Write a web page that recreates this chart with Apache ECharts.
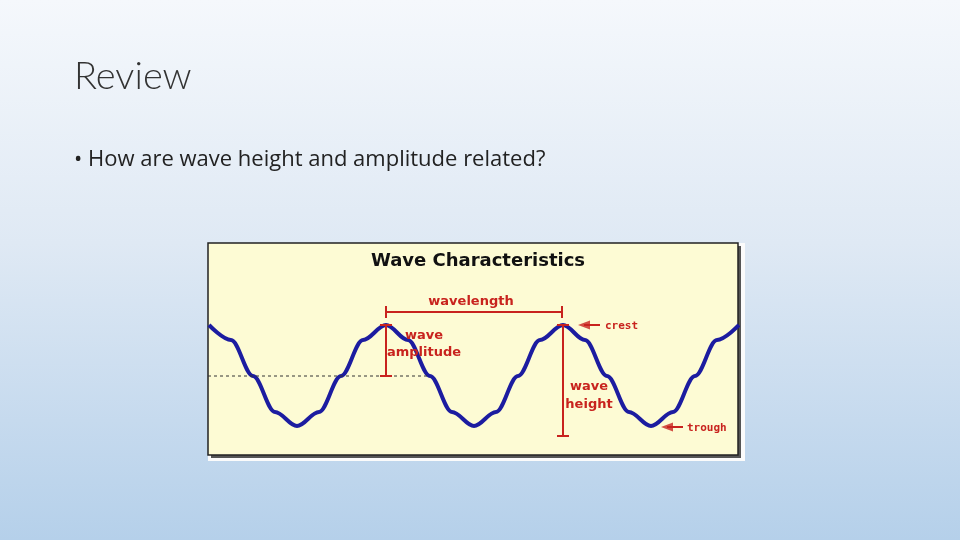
<!DOCTYPE html>
<html><head><meta charset="utf-8">
<script src="https://cdn.jsdelivr.net/npm/echarts@6/dist/echarts.min.js"></script>
<style>
html,body{margin:0;padding:0;}
#c{width:960px;height:540px;background:linear-gradient(#f5f8fc 0%,#dfe9f4 45%,#b5d0ea 100%);}
</style></head>
<body><div id="c"></div>
<script>
// wave (x, y in diagram units)
const waveX = [209,231,253,275,297,319,341,363,386,408,430,452,474,496,518,540,563,585,607,629,651,673,695,717,739];
const waveY = [325,340,376,412,426,412,376,340,325,340,376,412,426,412,376,340,325,340,376,412,426,412,376,340,325];
const midline = [[208,376],[430,376]];
const wavelength = [[386,312],[562,312]];
const amplitude = [[386,325],[386,376]];
const height = [[563,325],[563,436]];
const crestArrow = [[600,325],[584,325]];
const troughArrow = [[683,427],[667,427]];
const arrowTips = [[580,325],[663,427]];

const RED = '#c8231e';
const chart = echarts.init(document.getElementById('c'));

function seg(pts, color, type, width) {
  return { type: 'line', data: pts, symbol: 'none', silent: true, z: 4,
    lineStyle: { color, width: width || 2, type: type || 'solid' } };
}
function capped(pts, vertical) {
  return Object.assign(seg(pts, RED, 'solid', 2), {
    symbol: 'rect', symbolSize: vertical ? [12, 2] : [2, 12],
    itemStyle: { color: RED }
  });
}

chart.setOption({
  animation: false,
  graphic: [
    { type: 'text', left: 74, top: 58, style: { text: 'Review', font: '300 38px Lato, "Open Sans", sans-serif', fill: '#333' } },
    { type: 'text', left: 74, top: 149, style: { text: '• How are wave height and amplitude related?', font: '22px "Open Sans", sans-serif', fill: '#222' } },
    { type: 'rect', shape: { x: 208, y: 243, width: 537, height: 218 }, style: { fill: '#fbfbfb' }, z: -3 },
    { type: 'rect', shape: { x: 211, y: 246, width: 530, height: 212 }, style: { fill: '#555' }, z: -2 },
    { type: 'rect', shape: { x: 208, y: 243, width: 530, height: 212 },
      style: { fill: '#fdfbd4', stroke: '#222', lineWidth: 1.5 }, z: -1 },
    { type: 'text', x: 478, y: 261, style: { text: 'Wave Characteristics', font: 'bold 18px "DejaVu Sans", sans-serif', fill: '#111', align: 'center', verticalAlign: 'middle' }, z: 10 },
    { type: 'text', x: 471, y: 302, style: { text: 'wavelength', font: 'bold 13px "DejaVu Sans", sans-serif', fill: RED, align: 'center', verticalAlign: 'middle' }, z: 10 },
    { type: 'text', x: 424, y: 344, style: { text: 'wave\namplitude', font: 'bold 13px "DejaVu Sans", sans-serif', fill: RED, align: 'center', verticalAlign: 'middle', lineHeight: 17 }, z: 10 },
    { type: 'text', x: 589, y: 396, style: { text: 'wave\nheight', font: 'bold 13px "DejaVu Sans", sans-serif', fill: RED, align: 'center', verticalAlign: 'middle', lineHeight: 18 }, z: 10 },
    { type: 'text', x: 605, y: 326, style: { text: 'crest', font: 'bold 11px "DejaVu Sans Mono", monospace', fill: RED, verticalAlign: 'middle' }, z: 10 },
    { type: 'text', x: 687, y: 428, style: { text: 'trough', font: 'bold 11px "DejaVu Sans Mono", monospace', fill: RED, verticalAlign: 'middle' }, z: 10 }
  ],
  grid: { left: 208, top: 243, width: 530, height: 212 },
  xAxis: { type: 'value', min: 208, max: 738, show: false },
  yAxis: { type: 'value', min: 243, max: 455, inverse: true, show: false },
  series: [
    seg(midline, '#333', [3, 3], 1),
    { type: 'line', data: waveX.map((x, i) => [x, waveY[i]]), smooth: 0.35, smoothMonotone: 'x', symbol: 'none', z: 3,
      lineStyle: { color: '#1c1ca0', width: 4 } },
    capped(wavelength, false),
    capped(amplitude, true),
    capped(height, true),
    seg(crestArrow, RED, 'solid', 2),
    seg(troughArrow, RED, 'solid', 2),
    { type: 'scatter', data: arrowTips, symbol: 'triangle', symbolSize: [9, 12], symbolRotate: 90, symbolOffset: [4, 0],
      itemStyle: { color: RED }, z: 5, silent: true }
  ]
});
</script></body></html>
